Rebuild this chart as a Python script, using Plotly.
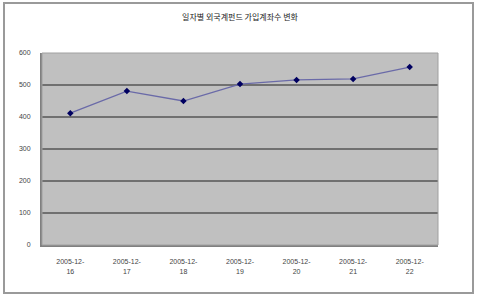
import plotly.graph_objects as go

title_text = "일자별 외국계펀드 가입계좌수 변화"
dates = ["2005-12-<br>16", "2005-12-<br>17", "2005-12-<br>18", "2005-12-<br>19",
         "2005-12-<br>20", "2005-12-<br>21", "2005-12-<br>22"]
values = [412, 481, 450, 503, 516, 519, 556]
y_ticks = [0, 100, 200, 300, 400, 500, 600]

fig = go.Figure()
fig.add_trace(go.Scatter(
    x=list(range(len(dates))), y=values, mode="lines+markers",
    line=dict(color="#6a6aa8", width=1.3),
    marker=dict(symbol="diamond", size=5, color="#000060"),
    showlegend=False,
))

fig.update_layout(
    width=480, height=301,
    margin=dict(l=42, r=42, t=53, b=56),
    paper_bgcolor="white",
    plot_bgcolor="#c0c0c0",
    title=dict(text=title_text, x=0.5, xanchor="center", y=1 - 17 / 301, yanchor="middle",
               font=dict(family="Noto Sans CJK KR", size=8, color="#222")),
    xaxis=dict(
        range=[-0.5, 6.5], tickmode="array", tickvals=list(range(len(dates))), ticktext=dates,
        showgrid=False, zeroline=False, showline=True, linecolor="#808080", linewidth=2,
        tickfont=dict(family="Liberation Sans", size=7, color="#444"),
        ticks="", ticklabelstandoff=9, fixedrange=True,
    ),
    yaxis=dict(
        range=[0, 600], tickmode="array", tickvals=y_ticks,
        showgrid=True, gridcolor="#707070", gridwidth=1.5, zeroline=False,
        showline=True, linecolor="#808080", linewidth=2, mirror=False,
        tickfont=dict(family="Liberation Sans", size=7, color="#444"),
        ticks="", ticklabelstandoff=8,
    ),
    shapes=[
        dict(type="rect", xref="paper", yref="paper", x0=0, x1=1, y0=0, y1=1,
             line=dict(color="#a0a0a0", width=1)),
        dict(type="rect", xref="paper", yref="paper",
             x0=-38 / 396, x1=1 + 35 / 396, y0=-48 / 192, y1=1 + 50 / 192,
             line=dict(color="#9a9a9a", width=2)),
    ],
)

fig.write_html("out.html")
